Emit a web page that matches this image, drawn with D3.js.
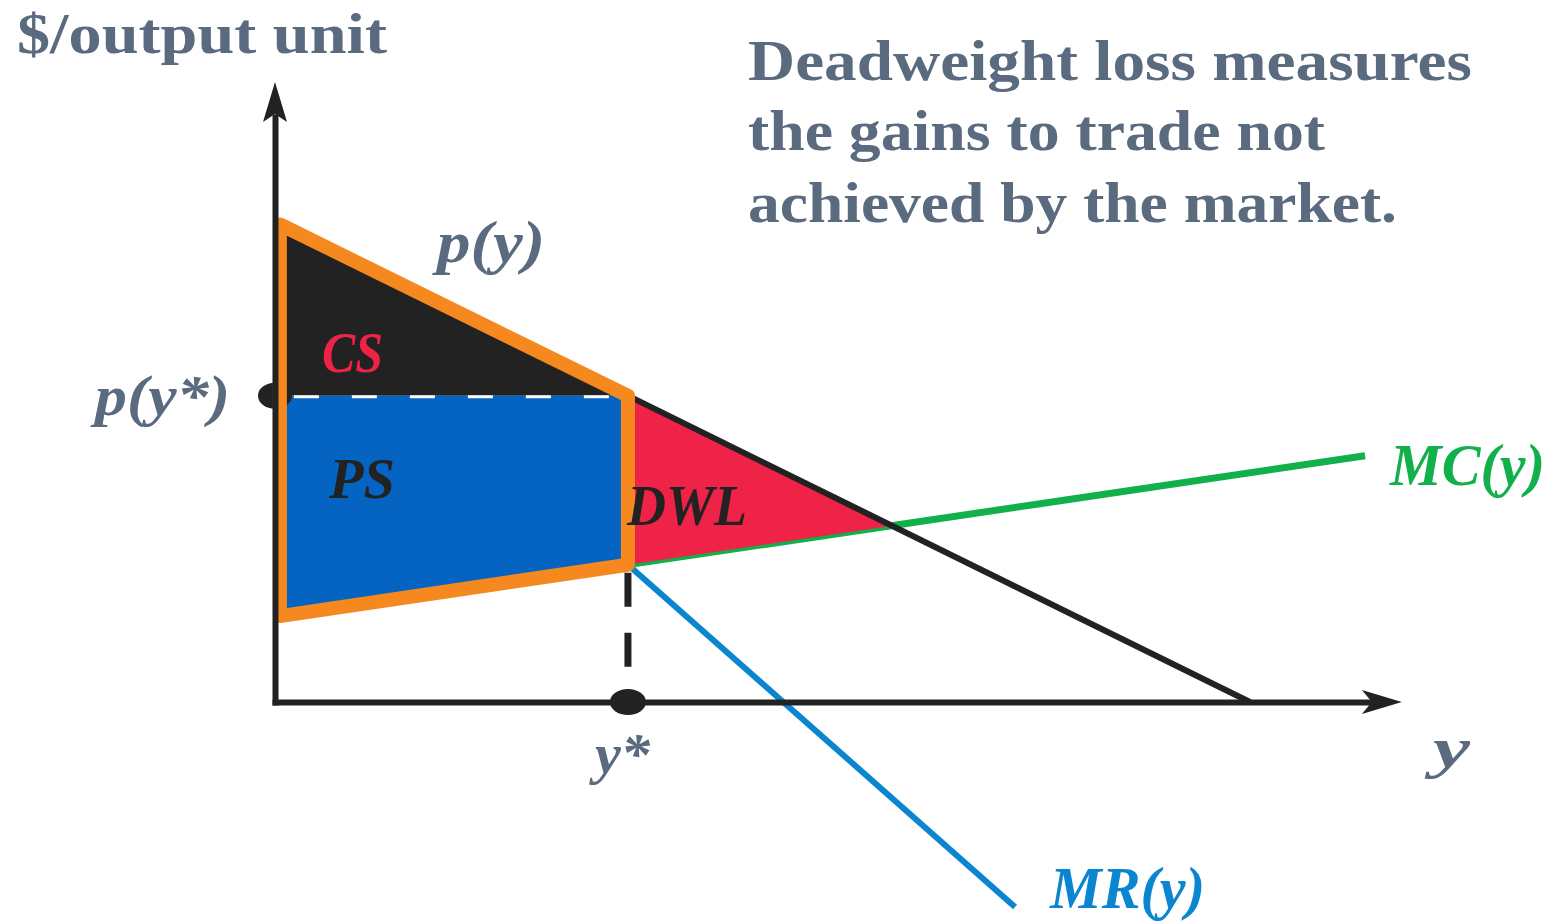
<!DOCTYPE html>
<html>
<head>
<meta charset="utf-8">
<script src="https://cdn.jsdelivr.net/npm/d3@7"></script>
<style>
  html, body { margin: 0; padding: 0; background: #ffffff; }
  svg { display: block; }
</style>
</head>
<body>
<svg id="chart" width="1555" height="921"></svg>
<script>
// Monopoly welfare diagram: demand p(y), marginal cost MC(y), marginal revenue MR(y)
// Quantities on the horizontal axis, $/unit on the vertical axis.

// Curve end points (quantity q, price p)
const demand = [{ q: 0.05, p: 9.95 }, { q: 10, p: 0 }];
const marginalCost = [{ q: 0.05, p: 1.79 }, { q: 11.18, p: 5.13 }];
const marginalRevenue = [{ q: 3.62, p: 2.86 }, { q: 7.59, p: -4.27 }];

// Monopoly outcome and competitive crossing
const qStart = 0.05;
const qStar = 3.62;
const pStar = 6.38;
const mcAtStar = 2.86;
const qCross = 6.33;
const pCross = 3.67;
const qAxisEnd = 11.25;
const pAxisEnd = 12.25;

// Text
const axisTitles = ["$/output unit", "y"];
const curveLabels = ["p(y)", "MC(y)", "MR(y)"];
const areaLabels = ["CS", "PS", "DWL"];
const markerLabels = ["p(y*)", "y*"];
const noteLines = ["Deadweight loss measures", "the gains to trade not", "achieved by the market."];

const svg = d3.select("#chart");

const x = d3.scaleLinear().domain([0, 10]).range([275, 1250]);
const y = d3.scaleLinear().domain([0, 10]).range([702, 222]);

const line = d3.line().x(d => x(d.q)).y(d => y(d.p));

const C = {
  text: "#5A6A7F",
  orange: "#F5891F",
  dark: "#222222",
  blue: "#0564C2",
  red: "#EE2347",
  green: "#12B04A",
  mr: "#0A86D0"
};

const serif = "'Liberation Serif', 'Times New Roman', serif";

// Marginal cost and marginal revenue curves
svg.append("path").attr("d", line(marginalCost))
  .attr("fill", "none").attr("stroke", C.green).attr("stroke-width", 7);
svg.append("path").attr("d", line(marginalRevenue))
  .attr("fill", "none").attr("stroke", C.mr).attr("stroke-width", 6);

// Deadweight loss triangle
const dwl = [{ q: qStar, p: pStar }, { q: qCross, p: pCross }, { q: qStar, p: mcAtStar }];
svg.append("path").attr("d", line(dwl) + "Z").attr("fill", C.red);

// Demand curve
svg.append("path").attr("d", line(demand))
  .attr("fill", "none").attr("stroke", C.dark).attr("stroke-width", 6);

// Consumer surplus and producer surplus
const cs = [{ q: qStart, p: demand[0].p }, { q: qStar, p: pStar }, { q: qStart, p: pStar }];
const mcAt = q => marginalCost[0].p + (marginalCost[1].p - marginalCost[0].p) *
  (q - marginalCost[0].q) / (marginalCost[1].q - marginalCost[0].q);
const ps = [{ q: qStart, p: pStar }, { q: qStar, p: pStar }, { q: qStar, p: mcAtStar }, { q: qStart, p: mcAt(qStart) }];
svg.append("path").attr("d", line(cs) + "Z").attr("fill", C.dark);
svg.append("path").attr("d", line(ps) + "Z").attr("fill", C.blue);

// Dashed price line across the surplus block
svg.append("line")
  .attr("x1", x(qStart) + 8).attr("x2", x(qStar) - 6)
  .attr("y1", y(pStar) + 1).attr("y2", y(pStar) + 1)
  .attr("stroke", "#ffffff").attr("stroke-width", 3)
  .attr("stroke-dasharray", "25,33").attr("stroke-dashoffset", -6);

// Price marker on the vertical axis
svg.append("ellipse").attr("cx", x(0)).attr("cy", y(pStar))
  .attr("rx", 17).attr("ry", 13).attr("fill", C.dark);

// Outline of total surplus captured
const outline = [{ q: qStart, p: demand[0].p }, { q: qStar, p: pStar }, { q: qStar, p: mcAtStar }, { q: qStart, p: mcAt(qStart) }];
svg.append("path").attr("d", line(outline) + "Z")
  .attr("fill", "none").attr("stroke", C.orange).attr("stroke-width", 14)
  .attr("stroke-linejoin", "round");

// Dashed drop line to y*
svg.append("line")
  .attr("x1", x(qStar)).attr("x2", x(qStar))
  .attr("y1", y(mcAtStar) + 8).attr("y2", y(0))
  .attr("stroke", C.dark).attr("stroke-width", 7)
  .attr("stroke-dasharray", "34,26");

// Axes (domain lines only, arrowheads at the ends)
const xAxisScale = x.copy().domain([0, qAxisEnd]).range([x(0) - 3, x(qAxisEnd)]);
const yAxisScale = y.copy().domain([0, pAxisEnd]).range([y(0) + 3, y(pAxisEnd)]);

svg.append("g").attr("transform", `translate(0,${y(0)})`)
  .call(d3.axisBottom(xAxisScale).tickValues([]).tickSizeOuter(0))
  .call(g => g.select(".domain").attr("stroke", C.dark).attr("stroke-width", 6));
svg.append("g").attr("transform", `translate(${x(0)},0)`)
  .call(d3.axisLeft(yAxisScale).tickValues([]).tickSizeOuter(0))
  .call(g => g.select(".domain").attr("stroke", C.dark).attr("stroke-width", 6));

// Arrowheads
const xt = x(qAxisEnd), yt = y(0);
svg.append("path")
  .attr("d", `M${xt + 30},${yt} L${xt - 10},${yt - 12} L${xt},${yt} L${xt - 10},${yt + 12} Z`)
  .attr("fill", C.dark);
const ax = x(0), ay = y(pAxisEnd);
svg.append("path")
  .attr("d", `M${ax},${ay - 32} L${ax - 12},${ay + 8} L${ax},${ay} L${ax + 12},${ay + 8} Z`)
  .attr("fill", C.dark);

// Quantity marker on the horizontal axis
svg.append("ellipse").attr("cx", x(qStar)).attr("cy", y(0))
  .attr("rx", 18).attr("ry", 13).attr("fill", C.dark);

// Text helper
function label(str, px, py, len, opts) {
  return svg.append("text")
    .attr("x", px).attr("y", py)
    .attr("textLength", len).attr("lengthAdjust", "spacingAndGlyphs")
    .attr("font-family", serif)
    .attr("font-weight", "bold")
    .attr("font-style", opts.italic ? "italic" : "normal")
    .attr("font-size", opts.size || 58)
    .attr("fill", opts.color)
    .text(str);
}

// Axis titles
label(axisTitles[0], 17, 53, 370, { color: C.text });
label(axisTitles[1], 1433, 767, 37, { color: C.text, italic: true });

// Note
label(noteLines[0], 748, 80, 724, { color: C.text });
label(noteLines[1], 748, 150, 577, { color: C.text });
label(noteLines[2], 748, 222, 649, { color: C.text });

// Curve labels
label(curveLabels[0], 437, 262, 108, { color: C.text, italic: true, size: 60 });
label(curveLabels[1], 1390, 485, 155, { color: C.green, italic: true, size: 60 });
label(curveLabels[2], 1050, 908, 155, { color: C.mr, italic: true, size: 60 });

// Area labels
label(areaLabels[0], 322, 372, 61, { color: C.red, italic: true });
label(areaLabels[1], 329, 498, 66, { color: C.dark, italic: true });
label(areaLabels[2], 627, 525, 120, { color: C.dark, italic: true });

// Marker labels
label(markerLabels[0], 95, 415, 135, { color: C.text, italic: true });
label(markerLabels[1], 595, 773, 55, { color: C.text, italic: true });
</script>
</body>
</html>
